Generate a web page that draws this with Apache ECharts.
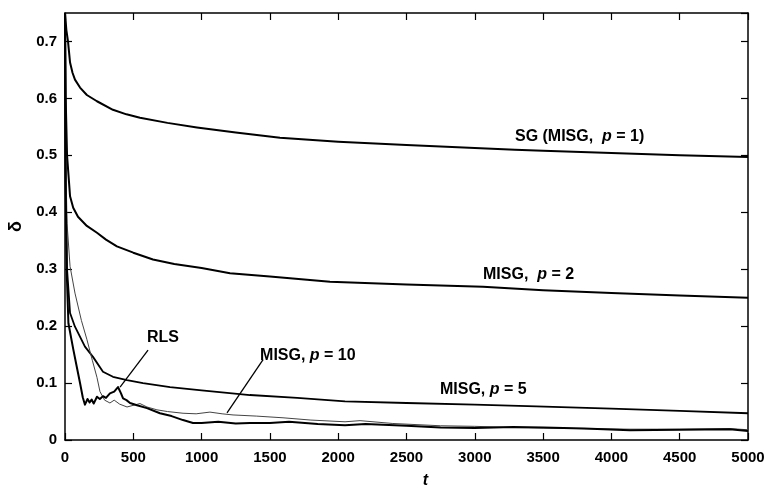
<!DOCTYPE html>
<html>
<head>
<meta charset="utf-8">
<script src="https://cdn.jsdelivr.net/npm/echarts@6/dist/echarts.min.js"></script>
<style>
  html, body { margin: 0; padding: 0; background: #fff; }
  #chart { width: 768px; height: 487px; }
</style>
</head>
<body>
<div id="chart"></div>
<script>
  // t values and delta values for each curve
  const tSG = [0, 10, 22, 37, 55, 73, 110, 160, 234, 351, 450, 549, 750, 966, 1250, 1574, 2000, 2500, 3000, 3294, 3500, 4000, 4500, 5000]
  const vSG = [0.75, 0.72, 0.70, 0.663, 0.645, 0.633, 0.619, 0.606, 0.595, 0.58, 0.572, 0.566, 0.557, 0.549, 0.54, 0.531, 0.524, 0.518, 0.513, 0.51, 0.508, 0.504, 0.50, 0.497]

  const tP2 = [0, 5, 15, 37, 60, 95, 160, 234, 300, 380, 500, 644, 800, 1000, 1208, 1500, 1940, 2500, 3060, 3500, 4000, 4500, 5000]
  const vP2 = [0.75, 0.60, 0.50, 0.428, 0.408, 0.392, 0.376, 0.364, 0.352, 0.34, 0.329, 0.317, 0.309, 0.302, 0.293, 0.287, 0.278, 0.273, 0.269, 0.263, 0.258, 0.254, 0.25]

  const tP5 = [0, 5, 15, 37, 73, 146, 205, 278, 351, 454, 571, 769, 1000, 1354, 1700, 2050, 2500, 3000, 3450, 4000, 4500, 5000]
  const vP5 = [0.75, 0.45, 0.30, 0.223, 0.199, 0.164, 0.146, 0.12, 0.111, 0.105, 0.10, 0.093, 0.087, 0.079, 0.074, 0.068, 0.065, 0.062, 0.059, 0.055, 0.051, 0.047]

  const tP10 = [0, 5, 15, 37, 73, 120, 161, 200, 234, 256, 290, 329, 360, 400, 454, 549, 600, 673, 750, 864, 960, 1061, 1150, 1230, 1400, 1596, 1800, 2050, 2160, 2400, 2750, 3000, 3280, 3500, 3800, 4136, 4500, 4868, 5000]
  const vP10 = [0.75, 0.50, 0.38, 0.305, 0.258, 0.21, 0.176, 0.14, 0.11, 0.085, 0.07, 0.065, 0.07, 0.063, 0.058, 0.064, 0.058, 0.053, 0.05, 0.047, 0.046, 0.049, 0.046, 0.044, 0.042, 0.039, 0.035, 0.032, 0.034, 0.029, 0.025, 0.024, 0.022, 0.021, 0.02, 0.019, 0.019, 0.02, 0.018]

  const tRLS = [0, 5, 12, 25, 60, 85, 110, 130, 146, 165, 180, 195, 210, 234, 255, 278, 300, 329, 360, 388, 410, 425, 450, 476, 527, 600, 695, 780, 864, 937, 1000, 1122, 1250, 1354, 1500, 1640, 1850, 2050, 2200, 2500, 2750, 3000, 3280, 3500, 3800, 4136, 4500, 4868, 5000]
  const vRLS = [0.75, 0.45, 0.30, 0.205, 0.16, 0.13, 0.10, 0.075, 0.062, 0.072, 0.066, 0.071, 0.064, 0.076, 0.072, 0.077, 0.074, 0.082, 0.085, 0.093, 0.082, 0.073, 0.07, 0.065, 0.061, 0.056, 0.047, 0.042, 0.035, 0.03, 0.03, 0.032, 0.029, 0.03, 0.03, 0.032, 0.028, 0.026, 0.028, 0.025, 0.022, 0.021, 0.023, 0.022, 0.02, 0.017, 0.018, 0.019, 0.016]

  // annotation labels: [t, delta, text parts]
  const labels = [
    { t: 3294, v: 0.533, pre: 'SG (MISG,  ', post: ' = 1)' },
    { t: 3060, v: 0.29, pre: 'MISG,  ', post: ' = 2' },
    { t: 2745, v: 0.088, pre: 'MISG, ', post: ' = 5' },
    { t: 1428, v: 0.149, pre: 'MISG, ', post: ' = 10' },
    { t: 600, v: 0.179, pre: 'RLS', post: null }
  ]
  // pointer lines from label to curve
  const pointers = [
    [[608, 0.158], [403, 0.093]],
    [[1450, 0.141], [1186, 0.0475]]
  ]

  const FONT = 'Liberation Sans'

  function pairs(ts, vs) {
    return ts.map((t, i) => [t, vs[i]])
  }

  function curve(name, ts, vs, width, color) {
    return {
      name: name,
      type: 'line',
      xAxisIndex: 0,
      yAxisIndex: 0,
      data: pairs(ts, vs),
      showSymbol: false,
      symbol: 'none',
      lineStyle: { width: width, color: color, join: 'round' },
      z: 3
    }
  }

  const chart = echarts.init(document.getElementById('chart'))

  const xBase = {
    type: 'value',
    min: 0,
    max: 5000,
    interval: 500,
    splitLine: { show: false },
    axisLine: { show: true, onZero: false, lineStyle: { color: '#000', width: 1.5 } },
    axisTick: { show: true, inside: true, length: 7, lineStyle: { color: '#000', width: 1.2 } }
  }
  const yBase = {
    type: 'value',
    min: 0,
    max: 0.75,
    interval: 0.1,
    splitLine: { show: false },
    axisLine: { show: true, onZero: false, lineStyle: { color: '#000', width: 1.5 } },
    axisTick: { show: true, inside: true, length: 7, lineStyle: { color: '#000', width: 1.2 } }
  }

  const option = {
    animation: false,
    backgroundColor: '#fff',
    grid: { left: 65, right: 20, top: 13, bottom: 47, containLabel: false, outerBoundsMode: 'none' },
    xAxis: [
      Object.assign({}, xBase, {
        position: 'bottom',
        name: 't',
        nameLocation: 'middle',
        nameGap: 33,
        nameTextStyle: { fontFamily: FONT, fontSize: 16, fontWeight: 'bold', fontStyle: 'italic', color: '#000', padding: [0, 0, 0, 38] },
        axisLabel: {
          fontFamily: FONT, fontSize: 15, fontWeight: 'bold', color: '#000', margin: 10,
          formatter: v => String(v)
        }
      }),
      Object.assign({}, xBase, { position: 'top', axisLabel: { show: false } })
    ],
    yAxis: [
      Object.assign({}, yBase, {
        position: 'left',
        name: 'δ',
        nameLocation: 'middle',
        nameGap: 40,
        nameTextStyle: { fontFamily: FONT, fontSize: 18, fontWeight: 'bold', color: '#000' },
        axisLabel: {
          fontFamily: FONT, fontSize: 15, fontWeight: 'bold', color: '#000', margin: 8,
          showMaxLabel: false,
          formatter: v => (v === 0 ? '0' : v.toFixed(1))
        }
      }),
      Object.assign({}, yBase, { position: 'right', axisLabel: { show: false } })
    ],
    series: [
      curve('SG', tSG, vSG, 2, '#000'),
      curve('MISG p=2', tP2, vP2, 2, '#000'),
      curve('MISG p=5', tP5, vP5, 1.8, '#000'),
      curve('MISG p=10', tP10, vP10, 1, '#444'),
      Object.assign(curve('RLS', tRLS, vRLS, 2, '#000'), {
        markLine: {
          silent: true,
          symbol: ['none', 'none'],
          label: { show: false },
          lineStyle: { color: '#000', width: 1.3, type: 'solid' },
          data: pointers.map(p => [{ coord: p[0] }, { coord: p[1] }])
        }
      })
    ]
  }

  chart.setOption(option)

  // text labels placed through the chart's own scales
  const rich = {
    a: { fontFamily: FONT, fontSize: 16, fontWeight: 'bold', fill: '#000' },
    i: { fontFamily: FONT, fontSize: 16, fontWeight: 'bold', fontStyle: 'italic', fill: '#000' }
  }
  const graphics = labels.map(l => {
    const pt = chart.convertToPixel({ xAxisIndex: 0, yAxisIndex: 0 }, [l.t, l.v])
    const txt = l.post === null ? '{a|' + l.pre + '}' : '{a|' + l.pre + '}{i|p}{a|' + l.post + '}'
    return {
      type: 'text',
      x: pt[0],
      y: pt[1],
      style: { text: txt, rich: rich, textVerticalAlign: 'middle', verticalAlign: 'middle', fill: '#000' },
      z: 10
    }
  })
  chart.setOption({ graphic: graphics })
</script>
</body>
</html>
